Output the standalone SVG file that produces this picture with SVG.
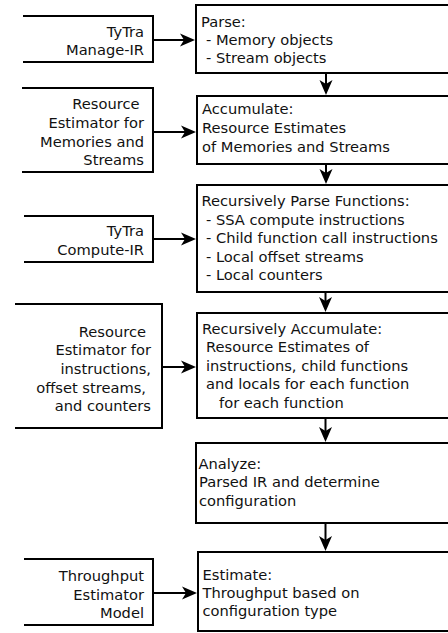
<svg xmlns="http://www.w3.org/2000/svg" width="448" height="633" viewBox="0 0 448 633">
<style>
.b{fill:none;stroke:#000;stroke-width:2}
.c{fill:none;stroke:#000;stroke-width:2}
text{font-family:"DejaVu Sans",sans-serif;font-size:14.67px;fill:#111}
.r{text-anchor:end}
</style>
<defs>
<marker id="ah" viewBox="0 0 15 14" refX="4" refY="7" markerWidth="15" markerHeight="14" markerUnits="userSpaceOnUse" orient="auto">
<path d="M0,0.5 L15,7 L0,13.5 L4,7 z" fill="#000"/>
</marker>
</defs>
<rect width="448" height="633" fill="#fff"/>

<g id="in1">
<path class="b" d="M23,16 H153 V62 H23"/>
<text class="r" x="144" y="36.5">TyTra</text>
<text class="r" x="144" y="55">Manage-IR</text>
</g>
<g id="in2">
<path class="b" d="M22,88 H153 V172 H22"/>
<text class="r" x="139.5" y="108.5">Resource</text>
<text class="r" x="144" y="127.5">Estimator for</text>
<text class="r" x="144" y="146.5">Memories and</text>
<text class="r" x="144" y="165">Streams</text>
</g>
<g id="in3">
<path class="b" d="M24,216 H153 V262 H24"/>
<text class="r" x="144" y="236">TyTra</text>
<text class="r" x="144" y="254.5">Compute-IR</text>
</g>
<g id="in4">
<path class="b" d="M15,304 H162 V428 H15"/>
<text class="r" x="146" y="336.5">Resource</text>
<text class="r" x="151" y="355">Estimator for</text>
<text class="r" x="151" y="374">instructions,</text>
<text class="r" x="146" y="392.5">offset streams,</text>
<text class="r" x="151" y="411">and counters</text>
</g>
<g id="in5">
<path class="b" d="M24,559 H153 V625 H24"/>
<text class="r" x="144" y="581">Throughput</text>
<text class="r" x="144" y="599.5">Estimator</text>
<text class="r" x="144" y="618">Model</text>
</g>

<g id="parse">
<rect class="b" x="196" y="5" width="270" height="68"/>
<text x="201" y="26.5">Parse:</text>
<text x="206" y="44.5">- Memory objects</text>
<text x="206" y="63">- Stream objects</text>
</g>
<g id="accumulate">
<rect class="b" x="197" y="96" width="270" height="68"/>
<text x="202" y="114">Accumulate:</text>
<text x="202" y="133">Resource Estimates</text>
<text x="202" y="151.5">of Memories and Streams</text>
</g>
<g id="rparse">
<rect class="b" x="197" y="185" width="270" height="107"/>
<text x="201.5" y="205.5">Recursively Parse Functions:</text>
<text x="206" y="224.5">- SSA compute instructions</text>
<text x="206" y="243">- Child function call instructions</text>
<text x="206" y="261.5">- Local offset streams</text>
<text x="206" y="280">- Local counters</text>
</g>
<g id="raccumulate">
<rect class="b" x="197" y="313" width="270" height="105"/>
<text x="202" y="333.5">Recursively Accumulate:</text>
<text x="206" y="352">Resource Estimates of</text>
<text x="206" y="370.5">instructions, child functions</text>
<text x="206" y="389">and locals for each function</text>
<text x="219" y="407.5">for each function</text>
</g>
<g id="analyze">
<rect class="b" x="196" y="443" width="270" height="80"/>
<text x="198.5" y="468.5">Analyze:</text>
<text x="199" y="487">Parsed IR and determine</text>
<text x="199" y="505.5">configuration</text>
</g>
<g id="estimate">
<rect class="b" x="198" y="552" width="270" height="79"/>
<text x="202.5" y="579.5">Estimate:</text>
<text x="202.5" y="598">Throughput based on</text>
<text x="202.5" y="616">configuration type</text>
</g>

<g id="connectors">
<line class="c" x1="153" y1="40" x2="184" y2="40" marker-end="url(#ah)"/>
<line class="c" x1="153" y1="132" x2="185" y2="132" marker-end="url(#ah)"/>
<line class="c" x1="153" y1="239" x2="185" y2="239" marker-end="url(#ah)"/>
<line class="c" x1="162" y1="367" x2="185" y2="367" marker-end="url(#ah)"/>
<line class="c" x1="153" y1="593" x2="186" y2="593" marker-end="url(#ah)"/>
<line class="c" x1="326" y1="73" x2="326" y2="84" marker-end="url(#ah)"/>
<line class="c" x1="326" y1="164" x2="326" y2="173" marker-end="url(#ah)"/>
<line class="c" x1="325.5" y1="292" x2="325.5" y2="301" marker-end="url(#ah)"/>
<line class="c" x1="325.5" y1="418" x2="325.5" y2="431" marker-end="url(#ah)"/>
<line class="c" x1="325.5" y1="523" x2="325.5" y2="540" marker-end="url(#ah)"/>
</g>
</svg>
